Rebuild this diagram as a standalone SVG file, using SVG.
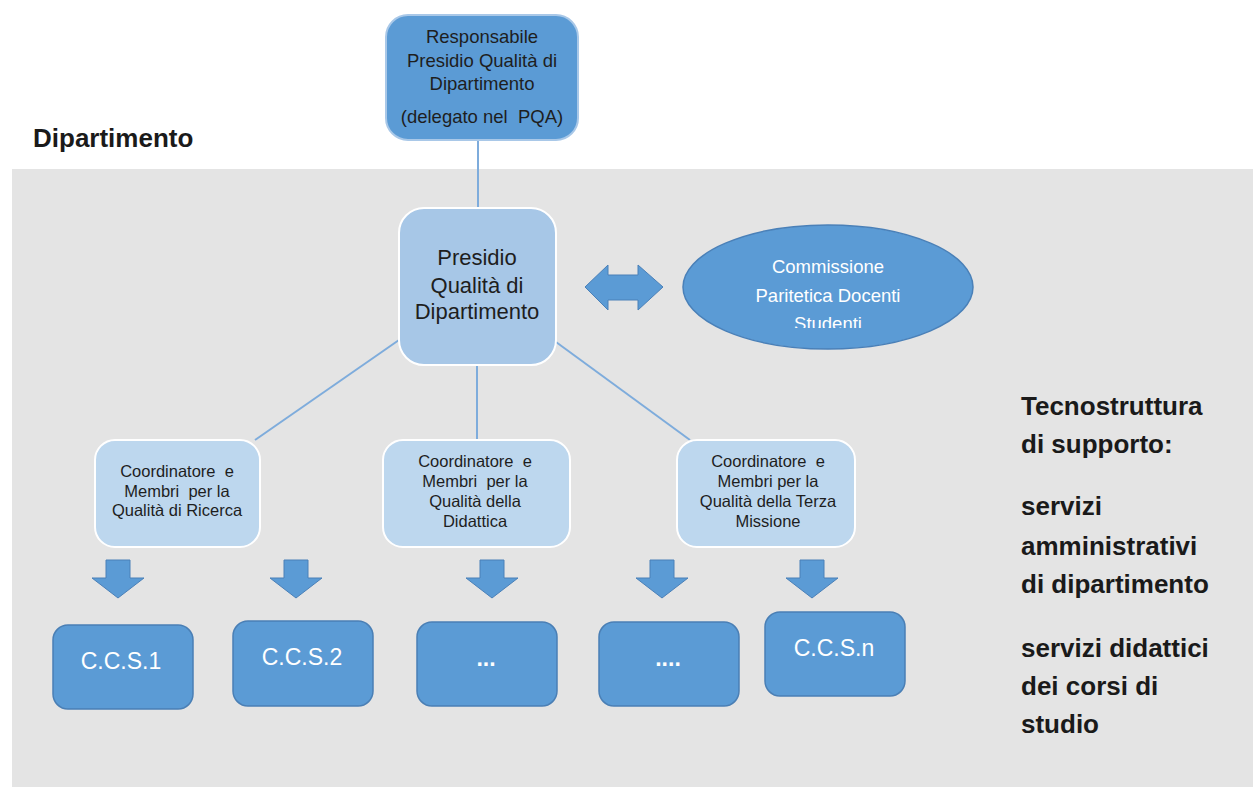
<svg xmlns="http://www.w3.org/2000/svg" width="1253" height="787" viewBox="0 0 1253 787">
<style>
  .lbl{font-family:"Liberation Sans",Arial,sans-serif;text-anchor:middle}
  .dark{fill:#1e1e1e}
  .white{fill:#ffffff}
  .bold{font-family:"Liberation Sans",Arial,sans-serif;font-weight:bold;font-size:26px;fill:#1a1a1a}
  .conn{stroke:#7eacdc;stroke-width:2;fill:none}
  .ccs{fill:#5b9bd5;stroke:#4a7fb5;stroke-width:1.5}
  .child{fill:#bdd7ee;stroke:#ffffff;stroke-width:2}
  .darr{fill:#5b9bd5;stroke:#4a80b8;stroke-width:1}
</style>
<defs>
  <clipPath id="ellClip"><rect x="680" y="220" width="300" height="108"/></clipPath>
  <path id="downArrow" d="M-12,0 H12 V18 H26 L0,38 L-26,18 H-12 Z"/>
</defs>
<rect x="0" y="0" width="1253" height="787" fill="#ffffff"/>
<rect id="dept-bg" x="12" y="169" width="1241" height="618" fill="#e4e4e4"/>
<text class="bold" x="33" y="147">Dipartimento</text>

<g id="connectors">
  <line class="conn" x1="478" y1="140" x2="478" y2="208"/>
  <line class="conn" x1="399" y1="340" x2="255" y2="440"/>
  <line class="conn" x1="477" y1="365" x2="477" y2="440"/>
  <line class="conn" x1="556" y1="342" x2="690" y2="440"/>
  <path id="double-arrow" d="M585,287 L608,265 V275 H638 V265 L663,287 L638,310 V300 H608 V310 Z" fill="#5b9bd5" stroke="#4a80b8" stroke-width="1"/>
  <use href="#downArrow" class="darr" x="118" y="560"/>
  <use href="#downArrow" class="darr" x="296" y="560"/>
  <use href="#downArrow" class="darr" x="492" y="560"/>
  <use href="#downArrow" class="darr" x="662" y="560"/>
  <use href="#downArrow" class="darr" x="812" y="560"/>
</g>

<g id="responsabile">
  <rect x="386" y="15" width="192" height="125" rx="22" fill="#5b9bd5" stroke="#a9c8e8" stroke-width="2"/>
  <text class="lbl dark" font-size="18.5" x="482" y="43">Responsabile</text>
  <text class="lbl dark" font-size="18.5" x="482" y="67">Presidio Qualità di</text>
  <text class="lbl dark" font-size="18.5" x="482" y="90">Dipartimento</text>
  <text class="lbl dark" font-size="18.5" x="482" y="123" xml:space="preserve">(delegato nel  PQA)</text>
</g>

<g id="presidio">
  <rect x="399" y="208" width="157" height="157" rx="25" fill="#a7c7e7" stroke="#ffffff" stroke-width="2"/>
  <text class="lbl dark" font-size="22" x="477" y="265">Presidio</text>
  <text class="lbl dark" font-size="22" x="477" y="293">Qualità di</text>
  <text class="lbl dark" font-size="22" x="477" y="319">Dipartimento</text>
</g>

<g id="commissione">
  <ellipse cx="828" cy="287" rx="145" ry="62" fill="#5b9bd5" stroke="#4a80b8" stroke-width="1.5"/>
  <g clip-path="url(#ellClip)">
    <text class="lbl white" font-size="18.5" x="828" y="273">Commissione</text>
    <text class="lbl white" font-size="18.5" x="828" y="302">Paritetica Docenti</text>
    <text class="lbl white" font-size="18.5" x="828" y="330">Studenti</text>
  </g>
</g>

<g id="coord-ricerca">
  <rect class="child" x="95" y="440" width="165" height="107" rx="20"/>
  <text class="lbl dark" font-size="16.5" x="177" y="477" xml:space="preserve">Coordinatore  e</text>
  <text class="lbl dark" font-size="16.5" x="177" y="497" xml:space="preserve">Membri  per la</text>
  <text class="lbl dark" font-size="16.5" x="177" y="516">Qualità di Ricerca</text>
</g>

<g id="coord-didattica">
  <rect class="child" x="383" y="440" width="187" height="107" rx="20"/>
  <text class="lbl dark" font-size="16.5" x="475" y="467" xml:space="preserve">Coordinatore  e</text>
  <text class="lbl dark" font-size="16.5" x="475" y="487" xml:space="preserve">Membri  per la</text>
  <text class="lbl dark" font-size="16.5" x="475" y="507">Qualità della</text>
  <text class="lbl dark" font-size="16.5" x="475" y="527">Didattica</text>
</g>

<g id="coord-terza">
  <rect class="child" x="677" y="440" width="178" height="107" rx="20"/>
  <text class="lbl dark" font-size="16.5" x="768" y="467" xml:space="preserve">Coordinatore  e</text>
  <text class="lbl dark" font-size="16.5" x="768" y="487">Membri per la</text>
  <text class="lbl dark" font-size="16.5" x="768" y="507">Qualità della Terza</text>
  <text class="lbl dark" font-size="16.5" x="768" y="527">Missione</text>
</g>

<g id="ccs1">
  <rect class="ccs" x="53" y="625" width="140" height="84" rx="15"/>
  <text class="lbl white" font-size="23" x="121" y="669">C.C.S.1</text>
</g>
<g id="ccs2">
  <rect class="ccs" x="233" y="621" width="140" height="85" rx="15"/>
  <text class="lbl white" font-size="23" x="302" y="665">C.C.S.2</text>
</g>
<g id="ccs3">
  <rect class="ccs" x="417" y="622" width="140" height="84" rx="15"/>
  <text class="lbl white" font-size="23" font-weight="bold" x="486" y="666">...</text>
</g>
<g id="ccs4">
  <rect class="ccs" x="599" y="622" width="140" height="84" rx="15"/>
  <text class="lbl white" font-size="23" font-weight="bold" x="668" y="666">....</text>
</g>
<g id="ccsn">
  <rect class="ccs" x="765" y="612" width="140" height="84" rx="15"/>
  <text class="lbl white" font-size="23" x="834" y="656">C.C.S.n</text>
</g>

<g id="tecnostruttura">
  <text class="bold" x="1021" y="415">Tecnostruttura</text>
  <text class="bold" x="1021" y="453">di supporto:</text>
  <text class="bold" x="1021" y="515">servizi</text>
  <text class="bold" x="1021" y="555">amministrativi</text>
  <text class="bold" x="1021" y="593">di dipartimento</text>
  <text class="bold" x="1021" y="657">servizi didattici</text>
  <text class="bold" x="1021" y="695">dei corsi di</text>
  <text class="bold" x="1021" y="733">studio</text>
</g>
</svg>
